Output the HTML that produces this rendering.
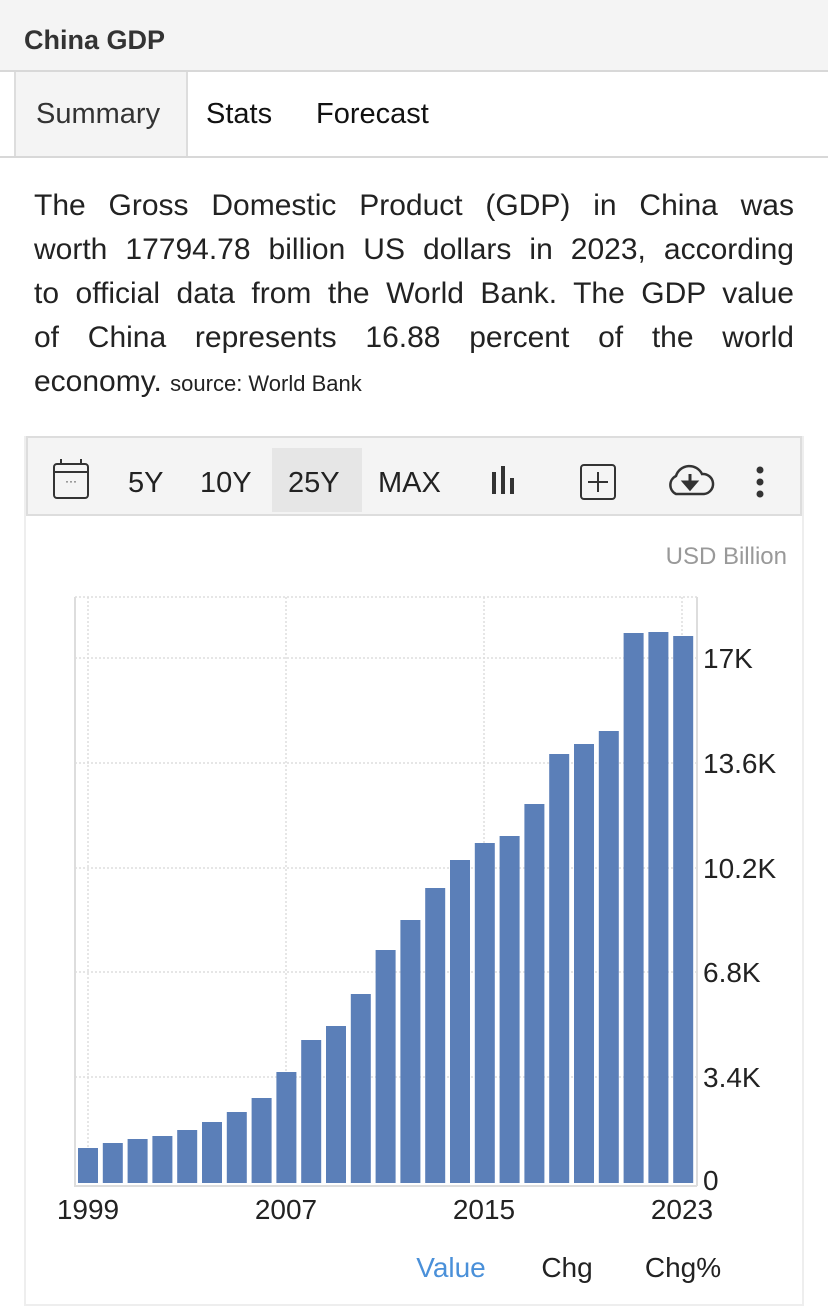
<!DOCTYPE html>
<html><head><meta charset="utf-8"><style>
body{margin:0;width:828px;height:1300px;background:#fff;font-family:"Liberation Sans",sans-serif;position:relative;overflow:hidden}
.hdr{position:absolute;left:0;top:0;width:828px;height:70px;background:#f4f4f4;border-bottom:2px solid #d8d8d8}
.hdr span{position:absolute;left:24px;top:25px;font-size:27px;font-weight:bold;color:#333}
.tabs{position:absolute;left:0;top:72px;width:828px;height:84px;border-bottom:2px solid #d8d8d8}
.tab{position:absolute;top:0;height:84px;line-height:84px;font-size:29px;color:#111}
.p{position:absolute;left:34px;top:184px;width:760px;font-size:30px;line-height:44px;color:#222}
.p div{text-align:justify;text-align-last:justify;height:44px;white-space:nowrap}
.p div.l{text-align-last:left}
.p small{font-size:22px}
.tb{position:absolute;left:26px;top:436px;width:776px;height:80px;background:#f4f4f4;border:2px solid #ddd;box-sizing:border-box}
.tb .t{position:absolute;top:0;height:80px;line-height:90px;font-size:29px;color:#222}
.box{position:absolute;left:24px;top:436px;width:780px;height:870px;border:2px solid #eee;box-sizing:border-box}
</style></head><body>
<div class="hdr"><span>China GDP</span></div>
<div class="tabs">
<div style="position:absolute;left:14px;top:0;width:170px;height:84px;background:#f4f4f4;border-left:2px solid #ddd;border-right:2px solid #ddd"></div>
<div class="tab" style="left:36px;color:#333">Summary</div>
<div class="tab" style="left:206px">Stats</div>
<div class="tab" style="left:316px">Forecast</div>
</div>
<div class="p">
<div>The Gross Domestic Product (GDP) in China was</div>
<div>worth 17794.78 billion US dollars in 2023, according</div>
<div>to official data from the World Bank. The GDP value</div>
<div>of China represents 16.88 percent of the world</div>
<div class="l">economy. <small>source: World Bank</small></div>
</div>
<div class="box"></div>
<div class="tb">
<svg style="position:absolute;left:24px;top:20px" width="40" height="44"><rect x="2" y="6" width="34" height="34" rx="3" fill="none" stroke="#333" stroke-width="2"/><line x1="2" y1="14" x2="36" y2="14" stroke="#333" stroke-width="2"/><line x1="9" y1="1" x2="9" y2="7" stroke="#333" stroke-width="2"/><line x1="29" y1="1" x2="29" y2="7" stroke="#333" stroke-width="2"/><text x="19" y="27" font-size="12" text-anchor="middle" fill="#333">···</text></svg>
<div class="t" style="left:100px">5Y</div>
<div class="t" style="left:172px">10Y</div>
<div style="position:absolute;left:244px;top:10px;width:90px;height:64px;background:#e6e6e6"></div>
<div class="t" style="left:260px">25Y</div>
<div class="t" style="left:350px">MAX</div>
<svg style="position:absolute;left:462px;top:28px" width="30" height="28"><rect x="2" y="6" width="4" height="22" fill="#333"/><rect x="11" y="0" width="4" height="28" fill="#333"/><rect x="20" y="12" width="4" height="16" fill="#333"/></svg>
<svg style="position:absolute;left:552px;top:26px" width="36" height="36"><rect x="1" y="1" width="34" height="34" rx="3" fill="none" stroke="#333" stroke-width="2"/><line x1="18" y1="8" x2="18" y2="28" stroke="#333" stroke-width="2"/><line x1="8" y1="18" x2="28" y2="18" stroke="#333" stroke-width="2"/></svg>
<svg style="position:absolute;left:636px;top:24px" width="52" height="36"><path d="M12 32 A10 10 0 0 1 12 14 A14 14 0 0 1 38 12 A10 10 0 0 1 40 32 Z" fill="none" stroke="#333" stroke-width="2.5"/><path d="M26 12 V24 M20 20 L26 27 L32 20 Z" stroke="#333" stroke-width="3" fill="#333"/></svg>
<svg style="position:absolute;left:726px;top:28px" width="12" height="32"><circle cx="6" cy="4" r="3.5" fill="#333"/><circle cx="6" cy="16" r="3.5" fill="#333"/><circle cx="6" cy="28" r="3.5" fill="#333"/></svg>
</div>
<svg style="position:absolute;left:0;top:0" width="828" height="1300">
<text x="787" y="564" font-size="24" fill="#999" text-anchor="end" font-family="Liberation Sans">USD Billion</text>
<g stroke="#ddd" stroke-dasharray="2,2" stroke-width="1.5">
<line x1="75" y1="597" x2="697" y2="597"/><line x1="75" y1="658" x2="697" y2="658"/><line x1="75" y1="763" x2="697" y2="763"/><line x1="75" y1="868" x2="697" y2="868"/><line x1="75" y1="972" x2="697" y2="972"/><line x1="75" y1="1077" x2="697" y2="1077"/>
<line x1="88" y1="597" x2="88" y2="1185"/><line x1="286" y1="597" x2="286" y2="1185"/><line x1="484" y1="597" x2="484" y2="1185"/><line x1="682" y1="597" x2="682" y2="1185"/>
</g>
<line x1="75" y1="597" x2="75" y2="1187" stroke="#ddd" stroke-width="2"/>
<line x1="74" y1="1186" x2="697" y2="1186" stroke="#ddd" stroke-width="2"/>
<line x1="697" y1="597" x2="697" y2="1186" stroke="#ddd" stroke-width="2"/>
<g fill="#5b7fb8" id="b"></g>
<g font-size="28" fill="#222" font-family="Liberation Sans">
<text x="703" y="668">17K</text><text x="703" y="773">13.6K</text><text x="703" y="878">10.2K</text><text x="703" y="982">6.8K</text><text x="703" y="1087">3.4K</text><text x="703" y="1190">0</text>
<g text-anchor="middle"><text x="88" y="1219">1999</text><text x="286" y="1219">2007</text><text x="484" y="1219">2015</text><text x="682" y="1219">2023</text></g>
<text x="451" y="1277" text-anchor="middle" fill="#4a90d9">Value</text><text x="567" y="1277" text-anchor="middle">Chg</text><text x="683" y="1277" text-anchor="middle">Chg%</text>
</g>
</svg>
<script>
var t=[1148,1143,1139,1136,1130,1122,1112,1098,1072,1040,1026,994,950,920,888,860,843,836,804,754,744,731,633,632,636];
var g=document.getElementById('b'),s='';
t.forEach(function(y,i){var c=88+i*24.8;s+='<rect x="'+(c-10).toFixed(1)+'" y="'+y+'" width="20" height="'+(1183-y)+'"/>';});
g.innerHTML=s;
</script>
</body></html>
